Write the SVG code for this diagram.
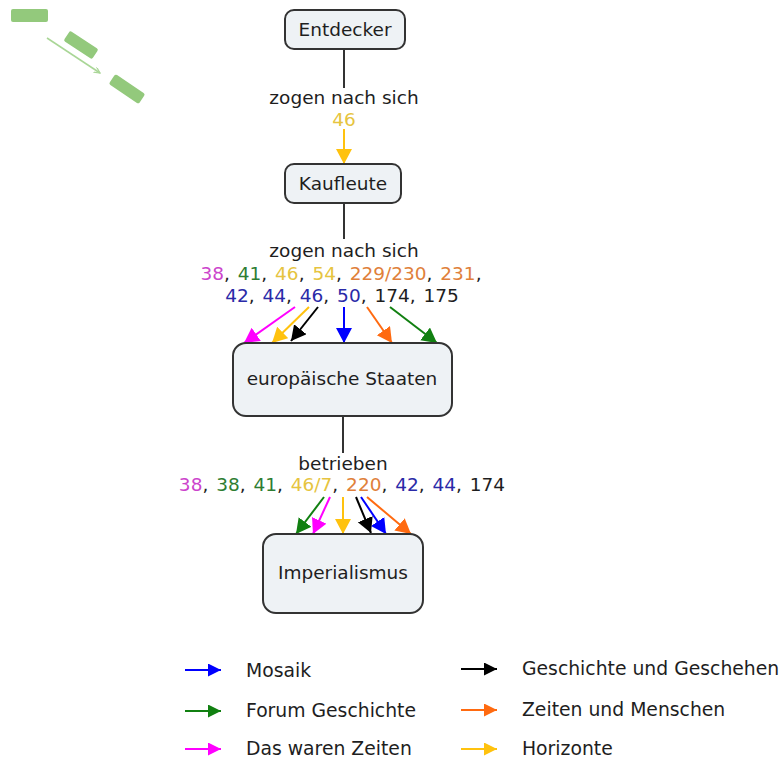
<svg xmlns="http://www.w3.org/2000/svg" width="783" height="760" viewBox="0 0 783 760">
<defs>
<style>
text{font-family:"DejaVu Sans","Liberation Sans",sans-serif;fill:#1e1e1e}
.node rect{fill:#eef2f5;stroke:#333;stroke-width:2}
.node text{font-size:18.5px;text-anchor:middle}
.lbl{font-size:18.5px;text-anchor:middle}
.num{word-spacing:2px}
.leg text{font-size:18.8px}
.stem{stroke:#333;stroke-width:2;fill:none}
.c line{stroke-width:2}
.mg{fill:#cc44cc}.gr{fill:#2e7d32}.ye{fill:#e6c440}.or{fill:#e0803a}.bl{fill:#2a2aa8}
</style>
<marker id="aY" markerUnits="userSpaceOnUse" markerWidth="17" markerHeight="17" refX="15" refY="8" orient="auto"><path d="M0,0 L15,8 L0,16 z" fill="#ffc20e"/></marker>
<marker id="aM" markerUnits="userSpaceOnUse" markerWidth="17" markerHeight="17" refX="15" refY="8" orient="auto"><path d="M0,0 L15,8 L0,16 z" fill="#ff00ff"/></marker>
<marker id="aK" markerUnits="userSpaceOnUse" markerWidth="17" markerHeight="17" refX="15" refY="8" orient="auto"><path d="M0,0 L15,8 L0,16 z" fill="#000"/></marker>
<marker id="aB" markerUnits="userSpaceOnUse" markerWidth="17" markerHeight="17" refX="15" refY="8" orient="auto"><path d="M0,0 L15,8 L0,16 z" fill="#0000ff"/></marker>
<marker id="aO" markerUnits="userSpaceOnUse" markerWidth="17" markerHeight="17" refX="15" refY="8" orient="auto"><path d="M0,0 L15,8 L0,16 z" fill="#ff6a10"/></marker>
<marker id="aG" markerUnits="userSpaceOnUse" markerWidth="17" markerHeight="17" refX="15" refY="8" orient="auto"><path d="M0,0 L15,8 L0,16 z" fill="#118011"/></marker>
<marker id="sY" markerUnits="userSpaceOnUse" markerWidth="14" markerHeight="14" refX="13" refY="6.5" orient="auto"><path d="M0,0 L13,6.5 L0,13 z" fill="#ffc20e"/></marker>
<marker id="sM" markerUnits="userSpaceOnUse" markerWidth="14" markerHeight="14" refX="13" refY="6.5" orient="auto"><path d="M0,0 L13,6.5 L0,13 z" fill="#ff00ff"/></marker>
<marker id="sK" markerUnits="userSpaceOnUse" markerWidth="14" markerHeight="14" refX="13" refY="6.5" orient="auto"><path d="M0,0 L13,6.5 L0,13 z" fill="#000"/></marker>
<marker id="sB" markerUnits="userSpaceOnUse" markerWidth="14" markerHeight="14" refX="13" refY="6.5" orient="auto"><path d="M0,0 L13,6.5 L0,13 z" fill="#0000ff"/></marker>
<marker id="sO" markerUnits="userSpaceOnUse" markerWidth="14" markerHeight="14" refX="13" refY="6.5" orient="auto"><path d="M0,0 L13,6.5 L0,13 z" fill="#ff6a10"/></marker>
<marker id="sG" markerUnits="userSpaceOnUse" markerWidth="14" markerHeight="14" refX="13" refY="6.5" orient="auto"><path d="M0,0 L13,6.5 L0,13 z" fill="#118011"/></marker>
<marker id="lg" markerUnits="userSpaceOnUse" markerWidth="8" markerHeight="8" refX="6" refY="3" orient="auto"><path d="M0,0 L6,3 L0,6" fill="none" stroke="#a9d696" stroke-width="1.2"/></marker>
</defs>
<rect width="783" height="760" fill="#fff"/>

<g id="deco" fill="#93c97c">
<rect x="11" y="9" width="37" height="13" rx="2"/>
<rect x="-17" y="-6" width="34" height="12" rx="2" transform="translate(81,45) rotate(33)"/>
<rect x="-18" y="-6" width="36" height="12" rx="2" transform="translate(127,89) rotate(34)"/>
<line x1="47" y1="38" x2="100" y2="73" stroke="#a9d696" stroke-width="1.5" marker-end="url(#lg)"/>
</g>

<g id="connectors">
<line class="stem" x1="344" y1="49" x2="344" y2="88"/>
<line x1="344" y1="129" x2="344" y2="164" stroke="#ffc20e" stroke-width="2" marker-end="url(#aY)"/>
<line class="stem" x1="344" y1="203" x2="344" y2="239"/>
<g class="c">
<line x1="295" y1="307" x2="244" y2="343" stroke="#ff00ff" marker-end="url(#aM)"/>
<line x1="309" y1="307" x2="272" y2="343" stroke="#ffc20e" marker-end="url(#aY)"/>
<line x1="318" y1="307" x2="291" y2="341" stroke="#000" marker-end="url(#aK)"/>
<line x1="344" y1="307" x2="344" y2="343" stroke="#0000ff" marker-end="url(#aB)"/>
<line x1="367" y1="307" x2="392" y2="343" stroke="#ff6a10" marker-end="url(#aO)"/>
<line x1="390" y1="307" x2="437" y2="343" stroke="#118011" marker-end="url(#aG)"/>
</g>
<line class="stem" x1="343" y1="416" x2="343" y2="453"/>
<g class="c">
<line x1="324" y1="497" x2="296" y2="534" stroke="#118011" marker-end="url(#aG)"/>
<line x1="330" y1="497" x2="313" y2="534" stroke="#ff00ff" marker-end="url(#aM)"/>
<line x1="343" y1="497" x2="343" y2="534" stroke="#ffc20e" marker-end="url(#aY)"/>
<line x1="356" y1="497" x2="371" y2="533" stroke="#000" marker-end="url(#aK)"/>
<line x1="361" y1="497" x2="386" y2="534" stroke="#0000ff" marker-end="url(#aB)"/>
<line x1="367" y1="497" x2="411" y2="534" stroke="#ff6a10" marker-end="url(#aO)"/>
</g>
</g>

<g id="labels">
<text class="lbl" x="344" y="104">zogen nach sich</text>
<text class="lbl" x="344" y="126" style="fill:#e6c440">46</text>
<text class="lbl" x="344" y="257">zogen nach sich</text>
<text class="lbl num" x="341" y="280"><tspan class="mg">38</tspan>, <tspan class="gr">41</tspan>, <tspan class="ye">46</tspan>, <tspan class="ye">54</tspan>, <tspan class="or">229/230</tspan>, <tspan class="or">231</tspan>,</text>
<text class="lbl num" x="342" y="302"><tspan class="bl">42</tspan>, <tspan class="bl">44</tspan>, <tspan class="bl">46</tspan>, <tspan class="bl">50</tspan>, 174, 175</text>
<text class="lbl" x="343" y="470">betrieben</text>
<text class="lbl num" x="342" y="491"><tspan class="mg">38</tspan>, <tspan class="gr">38</tspan>, <tspan class="gr">41</tspan>, <tspan class="ye">46/7</tspan>, <tspan class="or">220</tspan>, <tspan class="bl">42</tspan>, <tspan class="bl">44</tspan>, 174</text>
</g>

<g id="entdecker" class="node"><rect x="285" y="10" width="120" height="39" rx="9"/><text x="345" y="36">Entdecker</text></g>
<g id="kaufleute" class="node"><rect x="285" y="164" width="116" height="39" rx="9"/><text x="343" y="190">Kaufleute</text></g>
<g id="europaeische-staaten" class="node"><rect x="233" y="343" width="219" height="73" rx="13"/><text x="342" y="385">europäische Staaten</text></g>
<g id="imperialismus" class="node"><rect x="263" y="534" width="160" height="79" rx="13"/><text x="343" y="579">Imperialismus</text></g>

<g id="legend" class="leg">
<line x1="185" y1="670" x2="221" y2="670" stroke="#0000ff" stroke-width="2" marker-end="url(#sB)"/>
<text x="246" y="677">Mosaik</text>
<line x1="185" y1="711" x2="221" y2="711" stroke="#118011" stroke-width="2" marker-end="url(#sG)"/>
<text x="246" y="717">Forum Geschichte</text>
<line x1="185" y1="749" x2="221" y2="749" stroke="#ff00ff" stroke-width="2" marker-end="url(#sM)"/>
<text x="246" y="755">Das waren Zeiten</text>
<line x1="461" y1="669" x2="497" y2="669" stroke="#000" stroke-width="2" marker-end="url(#sK)"/>
<text x="522" y="675">Geschichte und Geschehen</text>
<line x1="461" y1="710" x2="497" y2="710" stroke="#ff6a10" stroke-width="2" marker-end="url(#sO)"/>
<text x="522" y="716">Zeiten und Menschen</text>
<line x1="461" y1="749" x2="497" y2="749" stroke="#ffc20e" stroke-width="2" marker-end="url(#sY)"/>
<text x="522" y="755">Horizonte</text>
</g>
</svg>
